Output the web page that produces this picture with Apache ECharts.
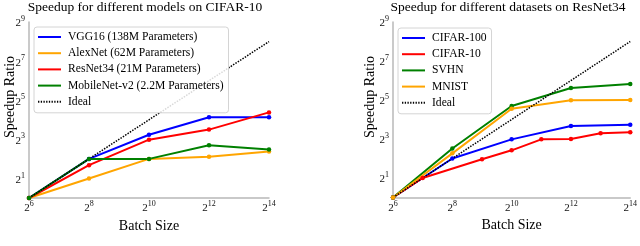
<!DOCTYPE html>
<html><head><meta charset="utf-8">
<script src="https://cdn.jsdelivr.net/npm/echarts@6/dist/echarts.min.js"></script>
<style>html,body{margin:0;padding:0;background:#fff}#c{width:640px;height:246px}</style>
</head><body><div id="c"></div>
<script>
// ---- data (left: models on CIFAR-10) ----
const titleA = 'Speedup for different models on CIFAR-10';
const batchA = [64, 256, 1024, 4096, 16384];
const vgg16 = [1, 4, 9.4, 17.5, 17.5];
const alexnet = [1, 2, 4, 4.3, 5.2];
const resnet34 = [1, 3.2, 7.9, 11.3, 20.8];
const mobilenet = [1, 4, 4, 6.5, 5.6];
const idealA = [1, 4, 16, 64, 256];
const namesA = ['VGG16 (138M Parameters)', 'AlexNet (62M Parameters)', 'ResNet34 (21M Parameters)', 'MobileNet-v2 (2.2M Parameters)', 'Ideal'];

// ---- data (right: datasets on ResNet34) ----
const titleB = 'Speedup for different datasets on ResNet34';
const batchB = [64, 256, 1024, 4096, 16384];
const cifar100 = [1, 4, 7.9, 12.7, 13.3];
const batchCifar10 = [64, 128, 512, 1024, 2048, 4096, 8192, 16384];
const cifar10 = [1, 2, 3.9, 5.35, 7.9, 8.0, 9.8, 10.2];
const svhn = [1, 5.7, 25.8, 49, 56.5];
const mnist = [1, 4.8, 23.5, 31.6, 32];
const idealB = [1, 4, 16, 64, 256];
const namesB = ['CIFAR-100', 'CIFAR-10', 'SVHN', 'MNIST', 'Ideal'];

// ---- tick labels (powers of two) ----
const xTickExp = [6, 8, 10, 12, 14];
const yTickExp = [1, 3, 5, 7, 9];
const xLabel = 'Batch Size';
const yLabel = 'Speedup Ratio';

const colors = { blue: '#0000ff', orange: '#ffa500', red: '#ff0000', green: '#008000', black: '#000000' };
const FONT = 'Liberation Serif';

function pts(xs, ys) { return xs.map((x, i) => [Math.log2(x), Math.log2(ys[i])]); }

function lineSeries(name, xs, ys, color, idx) {
  return { type: 'line', name, xAxisIndex: idx, yAxisIndex: idx, data: pts(xs, ys),
    symbol: 'circle', symbolSize: 4.5, showSymbol: true,
    lineStyle: { color, width: 2 }, itemStyle: { color, borderWidth: 0 },
    emphasis: { disabled: true }, animation: false };
}
function idealSeries(xs, ys, idx) {
  return { type: 'line', name: 'Ideal', xAxisIndex: idx, yAxisIndex: idx, data: pts(xs, ys),
    symbol: 'none', lineStyle: { color: '#000', width: 1.5, type: [1.5, 1.3] }, itemStyle: { color: '#000' },
    emphasis: { disabled: true }, animation: false, z: 3 };
}

const rich = {
  b: { fontFamily: FONT, fontSize: 11, color: '#111', lineHeight: 14, verticalAlign: 'bottom' },
  s: { fontFamily: FONT, fontSize: 8, color: '#111', lineHeight: 9, verticalAlign: 'top' }
};
function xAxisDef(idx) {
  return { type: 'value', gridIndex: idx, min: 6, max: 14, interval: 2,
    axisLine: { lineStyle: { color: '#b8b8b8', width: 1.5 } }, axisTick: { show: false }, splitLine: { show: false },
    axisLabel: { margin: 2, formatter: v => xTickExp.includes(v) ? '{b|2}{s|' + v + '}' : '', rich },
    name: xLabel, nameLocation: 'middle', nameGap: 12,
    nameTextStyle: { fontFamily: FONT, fontSize: 14, color: '#000' } };
}
function yAxisDef(idx) {
  return { type: 'value', gridIndex: idx, min: 0, max: 9, interval: 1,
    axisLine: { show: true, lineStyle: { color: '#b8b8b8', width: 1.5 } }, axisTick: { show: false }, splitLine: { show: false },
    axisLabel: { margin: 4, formatter: v => yTickExp.includes(v) ? '{b|2}{s|' + v + '}' : '', rich } };
}

function solidIcon() { return 'path://M0,0H23V2H0Z'; }
function dottedIcon() {
  let p = 'path://';
  for (let i = 0; i < 9; i++) { const x = i * 2.7; p += 'M' + x + ',0H' + (x + 1.3) + 'V2H' + x + 'Z'; }
  return p;
}
function legendDef(names, left, top) {
  return { orient: 'vertical', left, top, itemWidth: 23, itemHeight: 2, itemGap: 2.2,
    padding: [3, 5, 4, 4], backgroundColor: 'rgba(255,255,255,0.85)', borderColor: '#d4d4d4', borderWidth: 1, borderRadius: 3,
    textStyle: { fontFamily: FONT, fontSize: 11.6, color: '#000', lineHeight: 14, padding: [0, 0, 0, 2] },
    itemStyle: { borderWidth: 0 }, selectedMode: false,
    data: names.map(n => ({ name: n, icon: n === 'Ideal' ? dottedIcon() : solidIcon() })) };
}
function vText(text, x, y) {
  return { type: 'text', x, y, rotation: Math.PI / 2,
    style: { text, font: '14px "' + FONT + '"', fill: '#000', textAlign: 'center', textVerticalAlign: 'middle' } };
}

const chart = echarts.init(document.getElementById('c'), null, { renderer: 'canvas' });
chart.setOption({
  animation: false,
  backgroundColor: '#fff',
  grid: [
    { left: 29, top: 22, width: 240, height: 176 },
    { left: 393, top: 22, width: 240, height: 175.5 }
  ],
  xAxis: [xAxisDef(0), xAxisDef(1)],
  yAxis: [yAxisDef(0), yAxisDef(1)],
  legend: [legendDef(namesA, 34, 27), legendDef(namesB, 398, 28)],
  graphic: [
    { type: 'text', x: 145, y: 0, style: { text: titleA, font: '13.5px "' + FONT + '"', fill: '#000', textAlign: 'center' } },
    { type: 'text', x: 508, y: 0, style: { text: titleB, font: '13.5px "' + FONT + '"', fill: '#000', textAlign: 'center' } },
    vText(yLabel, 10, 97),
    vText(yLabel, 370, 97)
  ],
  series: [
    lineSeries(namesA[0], batchA, vgg16, colors.blue, 0),
    lineSeries(namesA[1], batchA, alexnet, colors.orange, 0),
    lineSeries(namesA[2], batchA, resnet34, colors.red, 0),
    lineSeries(namesA[3], batchA, mobilenet, colors.green, 0),
    idealSeries(batchA, idealA, 0),
    lineSeries(namesB[0], batchB, cifar100, colors.blue, 1),
    lineSeries(namesB[1], batchCifar10, cifar10, colors.red, 1),
    lineSeries(namesB[2], batchB, svhn, colors.green, 1),
    lineSeries(namesB[3], batchB, mnist, colors.orange, 1),
    idealSeries(batchB, idealB, 1)
  ]
});
</script></body></html>
